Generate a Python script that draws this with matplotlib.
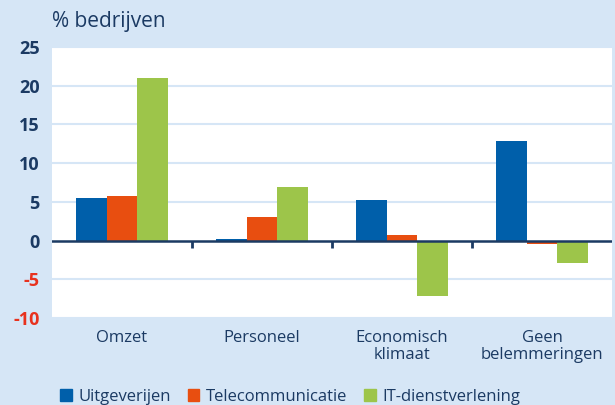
import numpy as np
import matplotlib.pyplot as plt
from matplotlib.patches import Patch

categories = ["Omzet", "Personeel", "Economisch\nklimaat", "Geen\nbelemmeringen"]
series = ["Uitgeverijen", "Telecommunicatie", "IT-dienstverlening"]
uitgeverijen = [5.5, 0.2, 5.3, 12.9]
telecom = [5.8, 3.0, 0.7, -0.4]
it_dienst = [21.0, 6.9, -7.2, -2.9]
yticks = [-10, -5, 0, 5, 10, 15, 20, 25]

bg = '#d6e6f6'
navy = '#1b3a63'
colors = ['#005faa', '#e84e10', '#9dc54a']

plt.rcParams['font.family'] = ['Open Sans', 'DejaVu Sans']

fig = plt.figure(figsize=(6.15, 4.05), dpi=100, facecolor=bg)
ax = fig.add_axes([52 / 615, 1 - 318 / 405, 560 / 615, 271 / 405])
ax.set_facecolor('white')

x = np.arange(len(categories))
w = 0.22
for i, (vals, c) in enumerate(zip([uitgeverijen, telecom, it_dienst], colors)):
    ax.bar(x + (i - 1) * w, vals, w, color=c, zorder=3)

ax.set_xlim(-0.5, len(categories) - 0.5)
ax.set_ylim(-10, 25)
ax.set_yticks(yticks)
for y in yticks:
    if y != 0:
        ax.axhline(y, color=bg, lw=1.5, zorder=1)
ax.axhline(0, color=navy, lw=1.8, zorder=4)
# category separators below zero line
for b in x[1:] - 0.5:
    ax.plot([b, b], [0, -0.9], color=navy, lw=2, zorder=4, solid_capstyle='butt')

for s in ax.spines.values():
    s.set_visible(False)
ax.tick_params(axis='both', length=0)
ax.set_xticks(x)
ax.set_xticklabels(categories, fontsize=12, color=navy, linespacing=1.05)
ax.tick_params(axis='x', pad=9)
ax.set_yticklabels([str(v) for v in yticks], fontsize=13, fontweight='bold')
for lab, v in zip(ax.get_yticklabels(), yticks):
    lab.set_color('#e8321e' if v < 0 else navy)
ax.tick_params(axis='y', pad=9)

fig.text(52 / 615, 1 - 22 / 405, "% bedrijven", fontsize=15, color=navy, va='center', ha='left')

handles = [Patch(color=c) for c in colors]
fig.legend(handles, series, loc='center', bbox_to_anchor=(0.472, 1 - 397 / 405), ncol=3,
           frameon=False, fontsize=12, handlelength=0.7, handleheight=0.7,
           handletextpad=0.4, columnspacing=1.0, labelcolor=navy)

fig.savefig("out.png", dpi=100, facecolor=bg)
